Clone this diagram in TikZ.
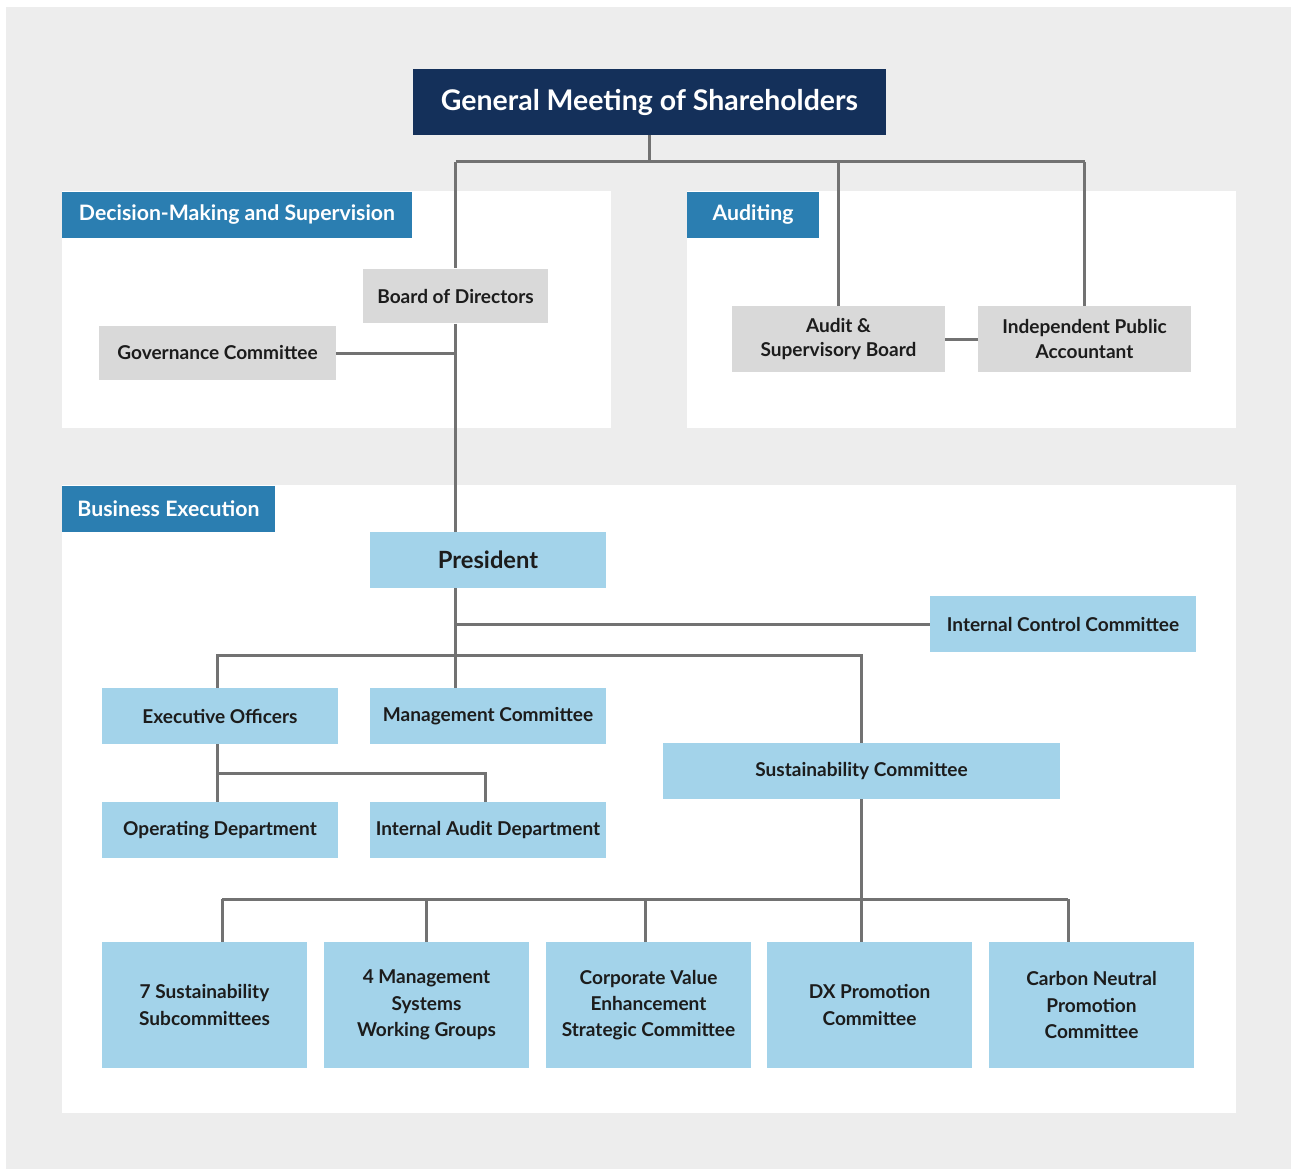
\documentclass[tikz,border=0pt]{standalone}
\usepackage{fontspec}
\setmainfont{Lato}
\usetikzlibrary{calc}
\definecolor{panelgrey}{HTML}{EDEDED}
\definecolor{tagblue}{HTML}{2B7EB1}
\definecolor{navy}{HTML}{14305A}
\definecolor{boxblue}{HTML}{A3D3EA}
\definecolor{boxgrey}{HTML}{D9D9D9}
\definecolor{linegrey}{HTML}{727272}
\definecolor{textdark}{HTML}{1C1C1C}
\tikzset{
	orgline/.style={line width=0.6mm, color=linegrey},
	greybox/.style={fill=boxgrey, text=textdark, inner sep=0pt, align=center, font=\bfseries\fontsize{10.85}{13.8}\selectfont},
	bluebox/.style={fill=boxblue, text=textdark, inner sep=0pt, align=center, font=\bfseries\fontsize{10.85}{13.8}\selectfont},
	subbox/.style={bluebox, minimum width=4.1cm, minimum height=2.52cm, font=\bfseries\fontsize{10.85}{15}\selectfont},
	tagbox/.style={fill=tagblue, text=white, inner sep=0pt, font=\bfseries\fontsize{12.1}{14}\selectfont, minimum height=0.94cm},
}

\begin{document}
\begin{tikzpicture}[x=0.02cm, y=-0.02cm]
			%%%%% START %%%%%
			\useasboundingbox (0, 0) rectangle (1291, 1169);
			\fill[panelgrey] (6, 7) rectangle (1291, 1169);
			
			% white panels
			\fill[white] (62, 191) rectangle (611, 428);
			\fill[white] (687, 191) rectangle (1236, 428);
			\fill[white] (62, 485) rectangle (1236, 1113);
			
			\node[tagbox, minimum width=7cm] (tagdecision) at (237, 215) {Decision-Making and Supervision};
			\node[tagbox, minimum width=2.64cm] (tagaudit) at (753, 215) {Auditing};
			\node[tagbox, minimum width=4.26cm] (tagbusiness) at (168.5, 509) {Business Execution};
			
			% top
			\node[fill=navy, text=white, inner sep=0pt, minimum width=9.46cm, minimum height=1.32cm, font=\bfseries\fontsize{16.2}{19}\selectfont] (gms) at (649.5, 102) {General Meeting of Shareholders};
			
			\node[greybox, minimum width=3.7cm, minimum height=1.1cm] (board) at (455.5, 296) {Board of Directors};
			\node[greybox, minimum width=4.74cm, minimum height=1.1cm] (gov) at (217.5, 353) {Governance Committee};
			\node[greybox, minimum width=4.26cm, minimum height=1.32cm] (audit) at (838.5, 339) {Audit \&\\Supervisory Board};
			\node[greybox, minimum width=4.26cm, minimum height=1.32cm] (ipa) at (1084.5, 339) {Independent Public\\Accountant};
			
			% execution
			\node[bluebox, minimum width=4.72cm, minimum height=1.12cm, font=\bfseries\fontsize{13.5}{16}\selectfont] (president) at (488, 560) {President};
			\node[bluebox, minimum width=5.32cm, minimum height=1.12cm] (icc) at (1063, 624) {Internal Control Committee};
			\node[bluebox, minimum width=4.72cm, minimum height=1.12cm] (eo) at (220, 716) {Executive Officers};
			\node[bluebox, minimum width=4.72cm, minimum height=1.12cm] (mc) at (488, 716) {Management Committee};
			\node[bluebox, minimum width=7.94cm, minimum height=1.12cm] (sc) at (861.5, 771) {Sustainability Committee};
			\node[bluebox, minimum width=4.72cm, minimum height=1.12cm] (od) at (220, 830) {Operating Department};
			\node[bluebox, minimum width=4.72cm, minimum height=1.12cm] (iad) at (488, 830) {Internal Audit Department};
			
			\node[subbox] (sub1) at (204.5, 1005) {7 Sustainability\\Subcommittees};
			\node[subbox] (sub2) at (426.5, 1005) {4 Management\\Systems\\Working Groups};
			\node[subbox] (sub3) at (648.5, 1005) {Corporate Value\\Enhancement\\Strategic Committee};
			\node[subbox] (sub4) at (869.5, 1005) {DX Promotion\\Committee};
			\node[subbox] (sub5) at (1091.5, 1005) {Carbon Neutral\\Promotion\\Committee};
			
			% connectors
			\coordinate (topl) at (455.5, 162);
			\coordinate (topr) at (1084.5, 162);
			\draw[orgline] (topl) -- (topr);
			\draw[orgline] (gms.south) -- (gms.south |- topl);
			\draw[orgline] (topl) -- (board.north);
			\draw[orgline] (audit.north) -- (audit.north |- topl);
			\draw[orgline] (topr) -- (ipa.north);
			\draw[orgline] (audit.east) -- (ipa.west);
			\draw[orgline] (gov.east) -- (gov.east -| board.south);
			\draw[orgline] (board.south) -- (board.south |- president.north);
			
			\draw[orgline] (board.south |- president.south) -- (board.south |- mc.north);
			\draw[orgline] (icc.west) -- (icc.west -| board.south);
			\coordinate (midbus) at (455.5, 655);
			\draw[orgline] ([xshift=-0.06cm]eo.north) |- (midbus) -| (sc.north);
			
			\draw[orgline] ([xshift=-0.06cm]eo.south) -- ([xshift=-0.06cm]od.north);
			\draw[orgline] ($([xshift=-0.06cm]eo.south)!0.5!([xshift=-0.06cm]od.north)$) -| ([xshift=-0.06cm]iad.north);
			
			\coordinate (subl) at (222, 899);
			\coordinate (subr) at (1068, 899);
			\draw[orgline] (subl) -- (subr);
			\draw[orgline] (sc.south) -- (sc.south |- sub4.north);
			\draw[orgline] (subl) -- (subl |- sub1.north);
			\draw[orgline] (sub2.north) -- (sub2.north |- subl);
			\draw[orgline] ([xshift=-0.07cm]sub3.north) -- ([xshift=-0.07cm]sub3.north |- subl);
			\draw[orgline] (subr) -- (subr |- sub5.north);
			%%%%% END %%%%%
\end{tikzpicture}
\end{document}
